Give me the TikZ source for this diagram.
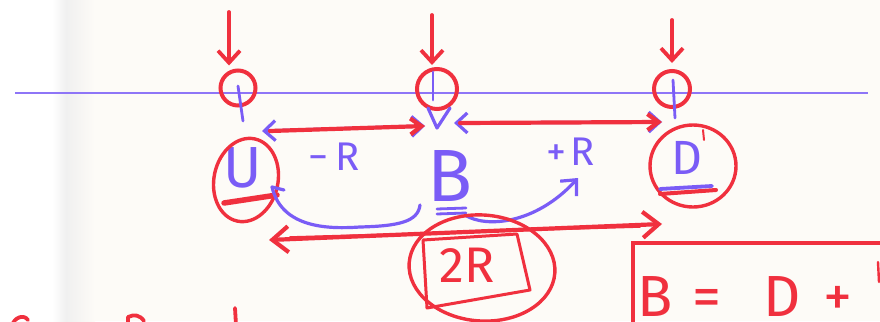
\documentclass[tikz,border=0pt]{standalone}
\usepackage{fontspec}
\setsansfont{Fira Sans}
\usetikzlibrary{arrows.meta,shapes.geometric}
\definecolor{ink}{RGB}{240,48,62}
\definecolor{pen}{RGB}{122,92,246}
\definecolor{paper}{RGB}{253,251,247}
\definecolor{shade}{RGB}{240,240,240}

\tikzset{
  redstroke/.style={draw=ink, line width=3.8pt, line cap=round, line join=round},
  bluestroke/.style={draw=pen, line width=3.2pt, line cap=round, line join=round},
  barbend/.style={-{Straight Barb[length=12pt,width=22pt]}},
  barbboth/.style={{Straight Barb[length=11pt,width=20pt]}-{Straight Barb[length=11pt,width=20pt]}},
  ring/.style={circle, draw=ink, line width=4pt, inner sep=0pt},
  oval/.style={ellipse, draw=ink, line width=3.4pt, inner sep=0pt},
  blueletter/.style={text=pen, inner sep=0pt, font=\sffamily\fontsize{#1}{#1}\selectfont},
  redletter/.style={text=ink, inner sep=0pt, font=\sffamily\fontsize{#1}{#1}\selectfont},
}

\begin{document}
\begin{tikzpicture}[x=1pt,y=-1pt]
  \useasboundingbox (0,0) rectangle (880,321);
  \clip (0,0) rectangle (880,321);

  % paper with a soft shadow band at the left
  \fill[paper] (0,0) rectangle (880,321);
  \fill[white] (0,0) rectangle (52,321);
  \shade[left color=white, right color=shade] (52,0) rectangle (66,321);
  \shade[left color=shade, right color=paper] (66,0) rectangle (95,321);

  % number line
  \draw[pen!85, line width=1.4pt] (15,93) -- (868,93);

  % marked points on the line
  \node[ring, minimum width=35pt, minimum height=35pt] (c1) at (238,88) {};
  \node[ring, minimum width=40pt, minimum height=40pt] (c2) at (437,89) {};
  \node[ring, minimum width=34pt, minimum height=36pt] (c3) at (672,89) {};

  % pointers from above
  \coordinate (t1) at (229,12);
  \coordinate (t2) at (432,15);
  \coordinate (t3) at (672,20);
  \draw[redstroke, barbend, shorten >=3pt] (t1) -- (c1.north -| t1);
  \draw[redstroke, barbend, shorten >=2pt] (t2) -- (c2.north -| t2);
  \draw[redstroke, barbend, shorten >=6pt] (t3) -- (c3.north);

  % ticks below the points
  \draw[bluestroke, line width=2.8pt] (238,86) -- (243,121);
  \draw[bluestroke, line width=2.8pt] (433,72) -- (433,100);
  \draw[bluestroke] (428,108) -- (437,128) -- (450,108);
  \draw[bluestroke, line width=2.8pt] (673,80) -- (675,118);

  % the three letters
  \node[blueletter=58] (U) at (243,168) {U};
  \node[blueletter=74] (B) at (450,176) {B};
  \node[blueletter=48] (D) at (687,158) {D};

  % rings round U and D
  \node[oval, minimum width=64pt, minimum height=84pt, rotate=-12] (Uring) at (246,180) {};
  \node[oval, minimum width=86pt, minimum height=82pt] (Dring) at (693,166) {};
  \draw[ink, line width=2pt, line cap=round] (703,130) -- (704,140);

  % underlines
  \draw[redstroke, line width=5.5pt] (224,203) -- (277,195);
  \draw[bluestroke, line width=2.8pt] (437,209) -- (466,208);
  \draw[bluestroke, line width=2.8pt] (437,214) -- (466,213);
  \draw[redstroke, line width=4pt] (660,194) -- (716,190);
  \draw[bluestroke, line width=3.8pt] (660,189) -- (712,186);

  % U <-> B : distance R
  \coordinate (ub1) at (262,131);
  \coordinate (ub2) at (425,126);
  \draw[bluestroke, barbboth] (ub1) -- (ub2);
  \draw[redstroke, line width=4.2pt, -{Straight Barb[length=11pt,width=16pt]}] ([xshift=8pt]ub1) -- (ub2);
  \node[blueletter=40] (mR) at (334,157) {−\hspace{7pt}R};

  % B <-> D : distance R
  \coordinate (bd1) at (454,123);
  \coordinate (bd2) at (662,122);
  \draw[bluestroke, barbboth] (bd1) -- (bd2);
  \draw[redstroke, line width=4.2pt, -{Straight Barb[length=11pt,width=16pt]}] ([xshift=6pt]bd1) -- (bd2);
  \node[blueletter=40] (pR) at (571,152) {+\hspace{4pt}R};

  % swoops from B
  \draw[bluestroke] (272,187) .. controls (282,229) and (330,229) .. (360,227)
                    .. controls (398,226) and (418,222) .. (420,205);
  \draw[bluestroke] (272,187) -- (284,190);
  \coordinate (sw1) at (465,215);
  \coordinate (sw2) at (578,178);
  \draw[bluestroke, -{Straight Barb[length=12pt,width=22pt]}] (sw1) .. controls (485,228) and (535,225) .. (sw2);

  % U <-> D : distance 2R
  \coordinate (ud1) at (269,240);
  \coordinate (ud2) at (662,224);
  \draw[redstroke, line width=4.2pt, {Straight Barb[length=16pt,width=26pt]}-{Straight Barb[length=16pt,width=26pt]}] (ud1) -- (ud2);
  \draw[ink, line width=1.6pt, line cap=round] (290,237) -- (640,227);

  % boxed and ringed 2R
  \node[redletter=50] (twoR) at (467,265) {2R};
  \draw[ink, line width=3pt, line join=round, line cap=round]
    (423,240) -- (517,234) -- (530,290) -- (427,308) -- cycle;
  \node[oval, minimum width=146pt, minimum height=106pt, rotate=-4] (twoRring) at (482,268) {};

  % boxed relation at the bottom right
  \draw[ink, line width=3.4pt] (633,330) -- (633,243) -- (890,243);
  \node[redletter=58, anchor=base] (eqB) at (655,316) {B};
  \node[redletter=58, anchor=base] (eqE) at (707,316) {=};
  \node[redletter=58, anchor=base] (eqD) at (782,316) {D};
  \node[redletter=58, anchor=base] (eqP) at (838,316) {+};
  \draw[ink, line width=2.4pt, line cap=round] (878,262) -- (879,282);

  % line of writing running off the bottom
  \draw[redstroke] (12,326) .. controls (14,317) and (24,314) .. (28,320);
  \draw[redstroke] (128,325) -- (128,317) .. controls (134,314) and (140,315) .. (144,321);
  \draw[redstroke] (235,308) -- (236,325);
\end{tikzpicture}
\end{document}
